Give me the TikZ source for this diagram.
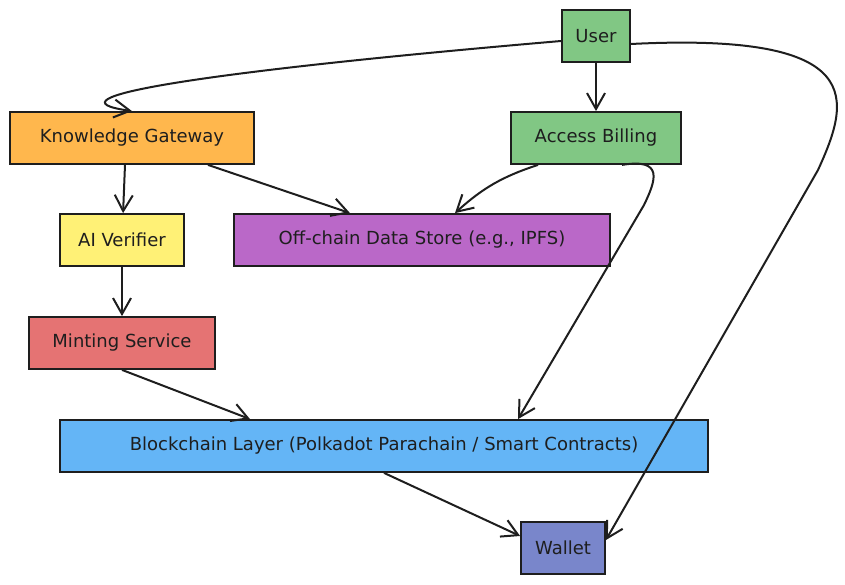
\documentclass[tikz,border=0pt]{standalone}
\usepackage{fontspec}
\setmainfont{DejaVu Sans}
\usetikzlibrary{arrows.meta, positioning}
\definecolor{usergreen}{RGB}{129,199,132}
\definecolor{gateorange}{RGB}{255,183,77}
\definecolor{verifyellow}{RGB}{255,241,118}
\definecolor{storepurple}{RGB}{186,104,200}
\definecolor{mintred}{RGB}{229,115,115}
\definecolor{chainblue}{RGB}{100,181,246}
\definecolor{walletblue}{RGB}{121,134,203}
\definecolor{inkgray}{RGB}{30,30,30}

\begin{document}
\begin{tikzpicture}[
		x=1pt, y=-1pt,
		block/.style={draw=inkgray, line width=1.8pt, minimum height=52pt, inner sep=0pt,
			font=\fontsize{18}{21}\selectfont, text=inkgray, align=center},
		arrow/.style={-{Straight Barb[length=16pt, width=18pt, line width=2pt]}, line width=2pt, draw=inkgray}
	]
		\useasboundingbox (0,0) rectangle (845,585);
		\node[block, fill=usergreen, minimum width=68pt] (user) at (596,36) {User};
		\node[block, fill=gateorange, minimum width=244pt] (gateway) at (132,138) {Knowledge Gateway};
		\node[block, fill=usergreen, minimum width=170pt] (billing) at (596,138) {Access Billing};
		\node[block, fill=verifyellow, minimum width=124pt] (verifier) at (122,240) {AI Verifier};
		\node[block, fill=storepurple, minimum width=376pt] (store) at (422,240) {Off-chain Data Store (e.g., IPFS)};
		\node[block, fill=mintred, minimum width=186pt] (minting) at (122,343) {Minting Service};
		\node[block, fill=chainblue, minimum width=648pt] (chain) at (384,446) {Blockchain Layer (Polkadot Parachain / Smart Contracts)};
		\node[block, fill=walletblue, minimum width=84pt] (wallet) at (563,548) {Wallet};
		\draw[arrow] (user.west |- 0,41) .. controls (200,72) and (40,98) .. (gateway.north -| 132,112);
		\draw[arrow] (user) -- (billing);
		\draw[arrow] (user.east |- 0,44) .. controls (870,32) and (850,100) .. (818,170) -- (wallet.east |- 0,540);
		\draw[arrow] (gateway.south -| 125,0) -- (verifier);
		\draw[arrow] (gateway.south -| 208,0) -- (store.north -| 350,0);
		\draw[arrow] (billing.south -| 538,0) to[bend right=12] (store.north -| 455,0);
		\draw[arrow] (billing.south -| 622,0) .. controls (664,158) and (656,180) .. (644,205) -- (chain.north -| 518,0);
		\draw[arrow] (verifier) -- (minting);
		\draw[arrow] (minting.south) -- (chain.north -| 250,0);
		\draw[arrow] (chain.south) -- (wallet.west |- 0,536);
	\end{tikzpicture}
\end{document}
